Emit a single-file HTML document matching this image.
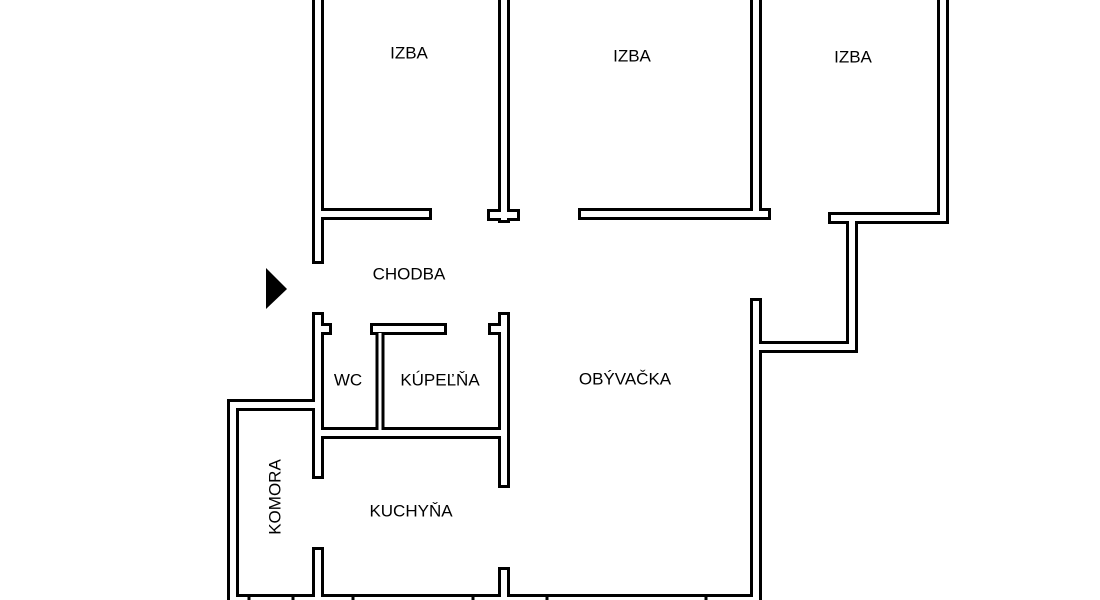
<!DOCTYPE html>
<html><head><meta charset="utf-8"><style>
html,body{margin:0;padding:0;background:#fff;}
svg{display:block}
text{font-family:"Liberation Sans",sans-serif;font-size:17px;fill:#000;text-anchor:middle;dominant-baseline:middle}
</style></head><body>
<svg width="1100" height="600" viewBox="0 0 1100 600" xmlns="http://www.w3.org/2000/svg">
<defs>
<g id="walls" fill="none" stroke-linecap="square" stroke-linejoin="miter">
<polyline points="318,-10 318,258"/>
<polyline points="318,214 426,214"/>
<polyline points="504,-10 504,217"/>
<polyline points="493,215 514,215"/>
<polyline points="584,214 756,214"/>
<polyline points="756,-10 756,214 765,214"/>
<polyline points="943,-10 943,218 834,218"/>
<polyline points="852,218 852,347 756,347"/>
<polyline points="756,304 756,610"/>
<polyline points="318,318 318,473"/>
<polyline points="318,329 326,329"/>
<polyline points="376,329 441,329"/>
<polyline points="318,433 504,433"/>
<polyline points="504,318 504,482"/>
<polyline points="504,329 494,329"/>
<polyline points="318,553 318,600"/>
<polyline points="504,573 504,600"/>
<polyline points="318,405 233,405 233,600 756,600"/>
</g>
</defs>
<use href="#walls" stroke="#000" stroke-width="12"/>
<polyline points="380,329 380,430" fill="none" stroke="#000" stroke-width="9" stroke-linecap="square"/>
<use href="#walls" stroke="#fff" stroke-width="6"/>
<polyline points="380,333 380,430" fill="none" stroke="#fff" stroke-width="3"/>
<g stroke="#000" stroke-width="3">
<line x1="249" y1="597" x2="249" y2="600"/><line x1="293" y1="597" x2="293" y2="600"/>
<line x1="353" y1="597" x2="353" y2="600"/><line x1="473" y1="597" x2="473" y2="600"/>
<line x1="547" y1="597" x2="547" y2="600"/><line x1="706" y1="597" x2="706" y2="600"/>
</g>
<polygon points="266,268 287,289 266,309" fill="#000"/>
<text x="409" y="54">IZBA</text>
<text x="632" y="57">IZBA</text>
<text x="853" y="58">IZBA</text>
<text x="409" y="275">CHODBA</text>
<text x="348" y="381">WC</text>
<text x="440" y="381">KÚPEĽŇA</text>
<text x="625" y="380">OBÝVAČKA</text>
<text x="411" y="512">KUCHYŇA</text>
<text x="276" y="497" transform="rotate(-90 276 497)">KOMORA</text>
</svg>
</body></html>
